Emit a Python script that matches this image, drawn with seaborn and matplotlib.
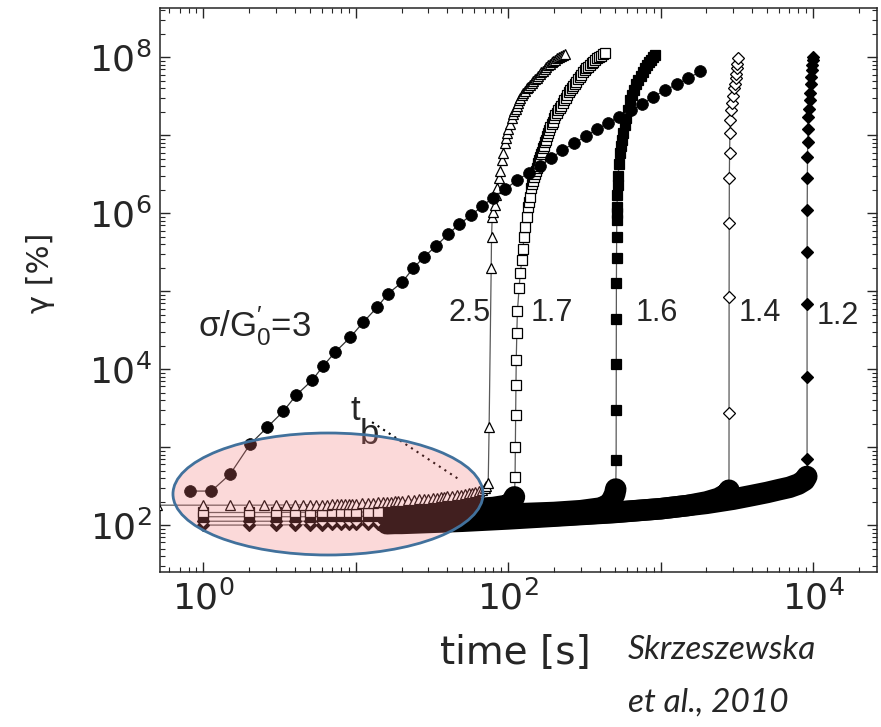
import numpy as np
import matplotlib
matplotlib.use("Agg")
import matplotlib.pyplot as plt
import matplotlib.ticker as mticker
from matplotlib.patches import Ellipse
import seaborn as sns

# ---- data: time [s] vs strain gamma [%] ----
# sigma/G'0 = 3 (filled circles)
t_30 = [0.82, 1.13, 1.50, 2.03, 2.63, 3.35, 4.07, 5.19, 6.12, 7.34, 9.22, 11.2, 13.8, 16.3,
        20.2, 23.8, 28.1, 33.6, 40.5, 47.6, 57.0, 67.4, 79.6, 95.5, 114, 137, 162, 191, 225,
        270, 325, 380, 450, 535, 640, 755, 890, 1070, 1280, 1520, 1820]
g_30 = [273, 273, 450, 1090, 1800, 2880, 4640, 7240, 1.10e4, 1.66e4, 2.57e4, 4.0e4, 6.2e4,
        9.3e4, 1.31e5, 1.97e5, 2.75e5, 3.8e5, 5.4e5, 7.2e5, 9.4e5, 1.23e6, 1.59e6, 2.03e6,
        2.65e6, 3.3e6, 4.1e6, 5.07e6, 6.4e6, 7.9e6, 9.8e6, 1.2e7, 1.42e7, 1.74e7, 2.09e7,
        2.5e7, 3.1e7, 3.8e7, 4.5e7, 5.4e7, 6.6e7]

# sigma/G'0 = 2.5 (open triangles)
t_25_base = [0.5, 1, 1.5, 2, 2.5, 3, 3.5, 4, 4.5, 5, 5.5, 6, 6.5, 7, 7.5, 8, 8.5, 9, 9.5, 10,
             11, 12, 13, 14, 15, 16, 17, 18, 19, 20, 22, 24, 26, 28, 30, 32, 34, 36, 38, 40,
             43, 46, 49, 52, 55, 58, 61, 64, 67, 70, 72, 74]
g_25_base = [180, 180, 180, 180, 180, 181, 181, 181, 182, 182, 182, 183, 183, 184, 184, 185,
             186, 187, 188, 189, 190, 192, 193, 195, 196, 198, 199, 201, 202, 204, 207, 210,
             213, 216, 219, 222, 225, 228, 231, 234, 238, 242, 246, 250, 255, 260, 266, 273,
             282, 296, 315, 350]
t_25_rise = [75, 77.4, 77.8, 78.6, 80, 82, 83.5, 84.7, 86.5, 88.5, 90.5, 92.7, 95.5, 97, 98.6,
             100.5, 103, 105.5, 108, 110, 112, 114, 116, 118, 120, 122.5, 125, 128.5, 132,
             135.5, 139, 142.5, 146, 150, 154, 157.5, 161, 165, 169, 173.5, 178, 183, 188,
             193, 198, 203.5, 209, 215.5, 222, 229, 236]
g_25_rise = [1800, 1.97e5, 4.9e5, 8.9e5, 1.05e6, 1.26e6, 1.7e6, 2.14e6, 2.8e6, 3.5e6, 4.8e6,
             6.0e6, 8.0e6, 9.3e6, 1.07e7, 1.22e7, 1.4e7, 1.65e7, 1.9e7, 2.05e7, 2.2e7, 2.4e7,
             2.6e7, 2.8e7, 3.0e7, 3.25e7, 3.5e7, 3.75e7, 4.0e7, 4.2e7, 4.4e7, 4.7e7, 5.0e7,
             5.25e7, 5.5e7, 5.8e7, 6.1e7, 6.4e7, 6.7e7, 7.1e7, 7.5e7, 7.9e7, 8.3e7, 8.65e7,
             9.0e7, 9.35e7, 9.7e7, 1.01e8, 1.05e8, 1.085e8, 1.12e8]

# sigma/G'0 = 1.7 (open squares)
t_17_base = [1, 2, 3, 4, 5, 6, 7, 8, 9, 10, 12, 14, 16, 18, 20, 30, 50, 80, 100, 106, 110]
g_17_base = [145, 145, 145, 146, 146, 146, 146, 147, 147, 147, 147, 148, 148, 149, 150, 153,
             158, 168, 180, 200, 230]
t_17_rise = [111, 111.5, 112, 112.5, 113, 114, 115, 118, 120, 123, 125, 127, 129, 133, 135,
             137, 139, 142, 144, 146, 148, 150, 152, 154, 156, 158, 160, 162, 164, 166, 168.5,
             171, 173.5, 176, 179.5, 183, 186, 189, 192.5, 196, 200, 204, 208.5, 213, 217.5,
             222, 227.5, 233, 238.5, 244, 249.5, 255, 261, 267, 273, 279, 286.5, 294, 302,
             310, 318, 326, 334.5, 343, 352.5, 362, 372.5, 383, 395, 407, 420, 433]
g_17_rise = [412, 1000, 2580, 6200, 1.3e4, 2.9e4, 5.5e4, 1.1e5, 1.7e5, 2.5e5, 3.5e5, 4.9e5,
             6.6e5, 8.9e5, 1.2e6, 1.4e6, 1.6e6, 2.1e6, 2.35e6, 2.6e6, 2.9e6, 3.2e6, 3.5e6,
             3.8e6, 4.1e6, 4.4e6, 4.8e6, 5.2e6, 5.7e6, 6.2e6, 6.8e6, 7.4e6, 8.1e6, 8.8e6,
             9.7e6, 1.07e7, 1.17e7, 1.27e7, 1.38e7, 1.5e7, 1.65e7, 1.8e7, 1.95e7, 2.1e7,
             2.25e7, 2.4e7, 2.6e7, 2.8e7, 3.05e7, 3.3e7, 3.55e7, 3.8e7, 4.05e7, 4.3e7, 4.6e7,
             4.9e7, 5.25e7, 5.6e7, 6.0e7, 6.5e7, 6.85e7, 7.2e7, 7.6e7, 8.0e7, 8.4e7, 8.8e7,
             9.25e7, 9.7e7, 1.01e8, 1.05e8, 1.09e8, 1.13e8]

# sigma/G'0 = 1.6 (filled squares)
t_16_base = [1, 2, 3, 4, 5, 6, 7, 8, 9, 10, 12, 14, 16, 18, 20, 50, 100, 200, 300, 400, 450,
             480, 500, 508]
g_16_base = [128, 128, 128, 128, 128, 129, 129, 129, 129, 129, 130, 130, 130, 130, 131, 134,
             138, 145, 153, 165, 180, 210, 250, 290]
t_16_rise = [511, 511.5, 512, 512.5, 513, 514, 515, 516, 517, 518, 520, 523, 526, 534, 542,
             550, 559, 568, 580, 594, 611, 631, 651, 671, 692, 713, 740, 767, 790, 815, 840,
             866, 893, 920]
g_16_rise = [680, 2970, 1.15e4, 4.4e4, 1.26e5, 2.7e5, 4.9e5, 8.1e5, 1.0e6, 1.2e6, 1.7e6,
             2.3e6, 3.0e6, 4.3e6, 6.0e6, 7.3e6, 8.7e6, 1.07e7, 1.35e7, 1.65e7, 2.1e7, 2.8e7,
             3.3e7, 3.8e7, 4.5e7, 5.1e7, 5.8e7, 6.5e7, 7.2e7, 8.0e7, 8.6e7, 9.2e7, 1.0e8, 1.07e8]

# sigma/G'0 = 1.4 (open diamonds)
t_14_base = [1, 2, 3, 4, 5, 6, 7, 8, 9, 10, 12, 14, 16, 18, 20, 50, 100, 200, 500, 1000,
             1500, 2000, 2400, 2650, 2780, 2810]
g_14_base = [112, 112, 112, 112, 112, 112, 113, 113, 113, 113, 113, 113, 114, 114, 114, 118,
             124, 132, 146, 162, 178, 198, 220, 245, 265, 280]
t_14_rise = [2812, 2815, 2820, 2825, 2835, 2850, 2870, 2890, 2930, 2980, 3020, 3070, 3110,
             3140, 3160, 3190, 3210]
g_14_rise = [2700, 8.4e4, 7.4e5, 2.8e6, 5.9e6, 1.07e7, 1.55e7, 2.1e7, 2.6e7, 3.2e7, 4.0e7,
             4.6e7, 5.4e7, 6.2e7, 7.2e7, 8.3e7, 9.7e7]

# sigma/G'0 = 1.2 (filled diamonds)
t_12_base = [1, 2, 3, 4, 5, 6, 7, 8, 9, 10, 12, 14, 16, 18, 20, 50, 100, 200, 500, 1000,
             2000, 3000, 4000, 5000, 6000, 7000, 8000, 8800, 9100]
g_12_base = [100, 100, 100, 101, 101, 101, 102, 102, 102, 103, 103, 104, 104, 105, 105, 112,
             120, 130, 145, 162, 190, 215, 240, 262, 285, 305, 335, 375, 420]
t_12_rise = [9140, 9140, 9140, 9150, 9160, 9180, 9200, 9230, 9270, 9300, 9400, 9540, 9610,
             9680, 9750, 9830, 9900, 9950, 9970]
g_12_rise = [700, 7900, 6.8e4, 3.2e5, 1.1e6, 2.8e6, 5.2e6, 8.1e6, 1.2e7, 1.7e7, 2.2e7, 2.8e7,
             3.5e7, 4.6e7, 5.6e7, 6.8e7, 8.0e7, 9.3e7, 1.0e8]

ratio_labels = ["2.5", "1.7", "1.6", "1.4", "1.2"]
label_t = [55.5, 194, 948, 4490, 14600]
label_g = [5.2e4, 5.2e4, 5.2e4, 5.2e4, 4.8e4]

# ---- style ----
sns.set_style("ticks")
plt.rcParams['font.family'] = ['DejaVu Sans']
plt.rcParams['mathtext.default'] = 'regular'

fig = plt.figure(figsize=(8.81, 7.27), dpi=100)
ax = fig.add_axes([0.1816, 0.2132, 0.8139, 0.7758])
ax.set_xscale('log')
ax.set_yscale('log')

LINE_C = '0.35'


def draw_series(tb, gb, tr, gr, marker, ms, filled, band, z):
    tb = np.asarray(tb, float)
    gb = np.asarray(gb, float)
    # thin connecting line
    sns.lineplot(x=np.r_[tb, tr], y=np.r_[gb, gr], ax=ax, color=LINE_C, lw=0.9,
                 estimator=None, sort=False, zorder=z)
    # thick dark band where the samples are so dense they merge
    if band:
        m = tb >= 15
        sns.lineplot(x=tb[m], y=gb[m], ax=ax, color='black', lw=15.5,
                     solid_capstyle='round', solid_joinstyle='round',
                     estimator=None, sort=False, zorder=z + 0.1)
        mt, mg = np.r_[tb[~m], tr], np.r_[gb[~m], gr]
    else:
        mt, mg = np.r_[tb, tr], np.r_[gb, gr]
    sns.lineplot(x=mt, y=mg, ax=ax, ls='none', marker=marker, markersize=ms,
                 markerfacecolor='black' if filled else 'white',
                 markeredgecolor='black', markeredgewidth=0.9,
                 estimator=None, sort=False, zorder=z + 0.2)


draw_series(t_12_base, g_12_base, t_12_rise, g_12_rise, 'D', 6.6, True, True, 2.0)
draw_series(t_14_base, g_14_base, t_14_rise, g_14_rise, 'D', 6.6, False, True, 2.3)
draw_series(t_16_base, g_16_base, t_16_rise, g_16_rise, 's', 7.0, True, True, 2.6)
draw_series(t_17_base, g_17_base, t_17_rise, g_17_rise, 's', 6.5, False, True, 2.9)
draw_series(t_25_base, g_25_base, t_25_rise, g_25_rise, '^', 7.0, False, False, 3.2)

sns.lineplot(x=t_30, y=g_30, ax=ax, color='0.2', lw=0.9, marker='o', markersize=8.5,
             markerfacecolor='black', markeredgecolor='black', markeredgewidth=0.5,
             estimator=None, sort=False, zorder=4)

# ---- axes ----
ax.set_xlim(0.52, 26300)
ax.set_ylim(25, 4.3e8)


def even_pow(v, pos):
    e = int(round(np.log10(v)))
    return r"$\mathdefault{10^{%d}}$" % e if e % 2 == 0 else ""


for axis in (ax.xaxis, ax.yaxis):
    axis.set_major_locator(mticker.LogLocator(base=10, numticks=20))
    axis.set_minor_locator(mticker.LogLocator(base=10, subs=np.arange(2, 10), numticks=20))
    axis.set_major_formatter(mticker.FuncFormatter(even_pow))
    axis.set_minor_formatter(mticker.NullFormatter())

ax.tick_params(which='both', direction='in', top=True, right=True, color='0.15')
ax.tick_params(which='major', length=7, width=1.0, labelsize=26, pad=6)
ax.tick_params(which='minor', length=3.5, width=0.8)
for s in ax.spines.values():
    s.set_color('0.15')
    s.set_linewidth(1.1)

ax.set_ylabel('γ [%]', fontsize=22)
ax.yaxis.set_label_coords(-0.146, 0.53)
ax.set_xlabel('time [s]', fontsize=28)
ax.xaxis.set_label_coords(0.495, -0.11)

# ---- annotations ----
ax.text(0.93, 3.6e4, "σ/G$^{\\prime}_{0}$=3", fontsize=25, family='Liberation Sans',
        ha='left', va='center', zorder=6)
for lab, tx, gy in zip(ratio_labels, label_t, label_g):
    ax.text(tx, gy, lab, fontsize=22, family='Liberation Sans', ha='center', va='center',
            zorder=6)
ax.text(9.9, 2960, "t", fontsize=25, family='Liberation Sans', ha='center', va='center',
        zorder=6)
ax.text(12.3, 1470, "b", fontsize=25, family='Liberation Sans', ha='center', va='center',
        zorder=6)
ax.plot([12.8, 48.4], [2090, 378], color='black', lw=1.5, ls=(0, (1, 2.2)), zorder=6)

# highlighted region
ax.add_patch(Ellipse((0.2343, 0.1383), 0.4324, 0.2163, transform=ax.transAxes,
                     facecolor=(0.95, 0.45, 0.45, 0.27), edgecolor='#41719C', lw=2.0,
                     zorder=10, clip_on=False))

fig.text(628 / 881, 1 - 650 / 727, "Skrzeszewska", style='italic', family='Lato',
         fontsize=24, ha='left', va='center')
fig.text(628 / 881, 1 - 703 / 727, "et al., 2010", style='italic', family='Lato',
         fontsize=24, ha='left', va='center')

fig.savefig('out.png', dpi=100)
